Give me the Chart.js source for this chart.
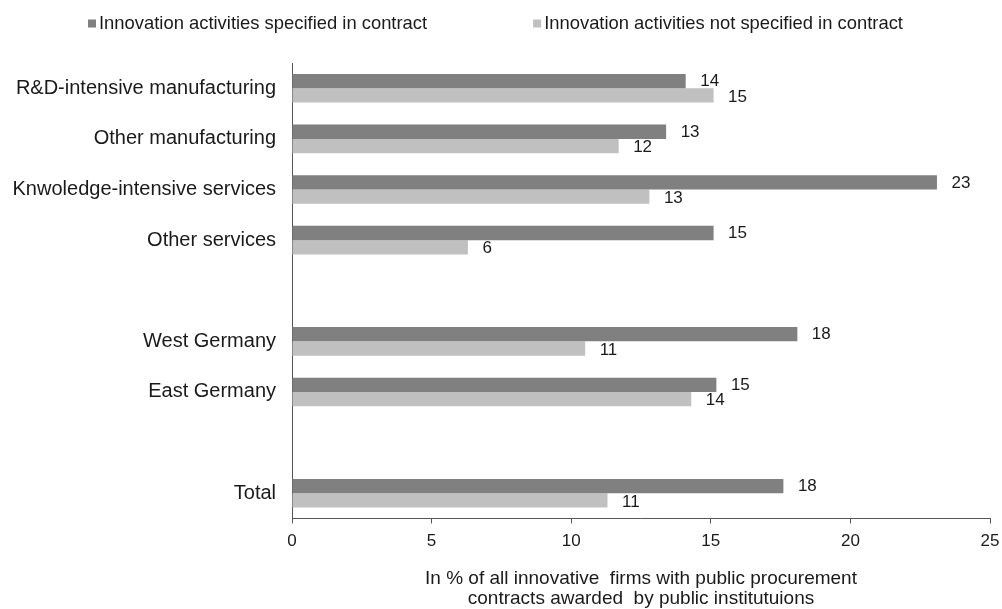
<!DOCTYPE html>
<html>
<head>
<meta charset="utf-8">
<script src="https://cdn.jsdelivr.net/npm/chart.js@4"></script>
<style>
  html, body { margin: 0; padding: 0; background: #fff; }
  #wrap { width: 1002px; height: 609px; position: relative; }
</style>
</head>
<body>
<div id="wrap"><canvas id="chart" width="1002" height="609"></canvas></div>
<script>
// categories (blank entries are the gaps between groups)
const categories = [
    'R&D-intensive manufacturing',
    'Other manufacturing',
    'Knwoledge-intensive services',
    'Other services',
    '',
    'West Germany',
    'East Germany',
    '',
    'Total'
];
const specified = [14.1, 13.4, 23.1, 15.1, null, 18.1, 15.2, null, 17.6];
const notSpecified = [15.1, 11.7, 12.8, 6.3, null, 10.5, 14.3, null, 11.3];
const seriesNames = [
    'Innovation activities specified in contract',
    'Innovation activities not specified in contract'
];
const xTicks = [0, 5, 10, 15, 20, 25];
const axisTitle = [
    'In % of all innovative  firms with public procurement',
    'contracts awarded  by public institutuions'
];

const FONT = "'Liberation Sans', Arial, sans-serif";
const DARK = '#808080';
const LIGHT = '#c0c0c0';
const AXIS = '#555555';

// value labels at the end of each bar
const valueLabels = {
    id: 'valueLabels',
    afterDatasetsDraw(chart) {
        const ctx = chart.ctx;
        ctx.save();
        ctx.font = '17px ' + FONT;
        ctx.fillStyle = '#1a1a1a';
        ctx.textAlign = 'left';
        ctx.textBaseline = 'middle';
        chart.data.datasets.forEach((ds, di) => {
            const meta = chart.getDatasetMeta(di);
            meta.data.forEach((bar, i) => {
                const v = ds.data[i];
                if (v === null) return;
                ctx.fillText(String(Math.round(v)), bar.x + 14.5, bar.y + (di === 0 ? 0.5 : 1.5));
            });
        });
        ctx.restore();
    }
};

// small square-box legend across the top
const topLegend = {
    id: 'topLegend',
    afterDraw(chart) {
        const ctx = chart.ctx;
        ctx.save();
        ctx.font = '18.4px ' + FONT;
        ctx.textBaseline = 'middle';
        const box = 8, gap = 3, spacing = 106, y = 23.5;
        const widths = seriesNames.map(t => ctx.measureText(t).width);
        let x = 88;
        chart.data.datasets.forEach((ds, i) => {
            ctx.fillStyle = ds.backgroundColor;
            ctx.fillRect(x, y - box / 2, box, box);
            ctx.fillStyle = '#1a1a1a';
            ctx.fillText(seriesNames[i], x + box + gap, y);
            x += box + gap + widths[i] + spacing;
        });
        ctx.restore();
    }
};

new Chart(document.getElementById('chart'), {
    type: 'bar',
    data: {
        labels: categories,
        datasets: [
            { label: seriesNames[0], data: specified, backgroundColor: DARK },
            { label: seriesNames[1], data: notSpecified, backgroundColor: LIGHT }
        ]
    },
    options: {
        indexAxis: 'y',
        responsive: false,
        animation: false,
        layout: { padding: { top: 63, right: 12, bottom: 0, left: 0 } },
        datasets: { bar: { categoryPercentage: 0.565, barPercentage: 1.0 } },
        plugins: {
            legend: { display: false },
            tooltip: { enabled: false }
        },
        scales: {
            x: {
                min: 0,
                max: 25,
                afterBuildTicks(scale) {
                    scale.ticks = xTicks.map(v => ({ value: v }));
                },
                afterFit(scale) {
                    scale.height = 90.5;
                    scale.paddingLeft = 0;
                    scale.paddingRight = 0;
                },
                grid: { drawOnChartArea: false, drawTicks: true, tickLength: 5, color: AXIS },
                border: { display: true, color: AXIS, width: 1 },
                ticks: { color: '#1a1a1a', font: { family: FONT, size: 17 }, padding: 8 },
                title: {
                    display: true,
                    text: axisTitle,
                    color: '#1a1a1a',
                    font: { family: FONT, size: 19, lineHeight: 1.05 },
                    padding: { top: 0, bottom: 0 }
                }
            },
            y: {
                afterFit(scale) { scale.width = 292; },
                grid: { display: false, drawTicks: false },
                border: { display: true, color: AXIS, width: 1 },
                ticks: { color: '#1a1a1a', font: { family: FONT, size: 20 }, padding: 16, autoSkip: false }
            }
        }
    },
    plugins: [valueLabels, topLegend]
});
</script>
</body>
</html>
